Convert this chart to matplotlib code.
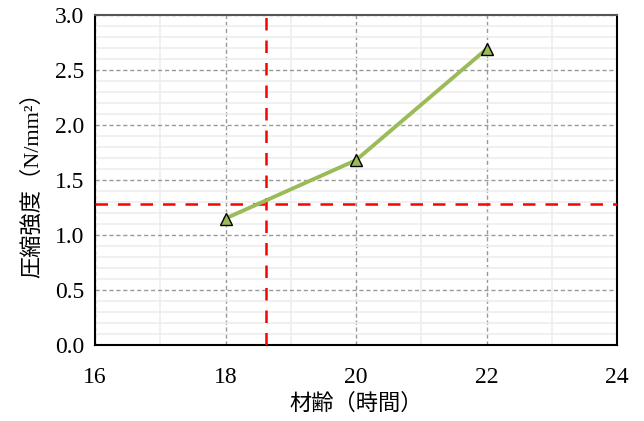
import matplotlib
matplotlib.use('Agg')
import matplotlib.pyplot as plt
from matplotlib.ticker import MultipleLocator

ages = [18, 20, 22]
strength = [1.15, 1.68, 2.69]
target_age = 18.62
target_strength = 1.28

plt.rcParams['font.family'] = ['Liberation Serif', 'Noto Sans CJK JP']

fig = plt.figure(figsize=(6.44, 4.21), dpi=100)
ax = fig.add_axes([95/644, 1-345/421, 522/644, 330/421])

ax.set_xlim(16, 24)
ax.set_ylim(0, 3.0)
ax.xaxis.set_major_locator(MultipleLocator(2))
ax.xaxis.set_minor_locator(MultipleLocator(1))
ax.yaxis.set_major_locator(MultipleLocator(0.5))
ax.yaxis.set_minor_locator(MultipleLocator(0.1))
ax.grid(which='minor', color='#eeeeee', lw=1.2, ls='-')
ax.grid(which='major', color='#999999', lw=1, ls=(0, (3, 2)))
ax.set_axisbelow(True)

ax.axvline(target_age, color='#ff0000', lw=1.8, ls=(0, (5, 4)), zorder=3)
ax.axhline(target_strength, color='#ff0000', lw=1.8, ls=(0, (5, 4)), zorder=3)

ax.plot(ages, strength, color='#9bbb59', lw=2.8, marker='^', ms=9,
        markerfacecolor='#9bbb59', markeredgecolor='black', markeredgewidth=1, zorder=4)

ax.yaxis.set_major_formatter(matplotlib.ticker.FormatStrFormatter('%.1f'))
ax.tick_params(which='both', length=0, labelsize=17, pad=8)
ax.tick_params(axis='x', pad=16)
for s in ['left', 'bottom', 'right']:
    ax.spines[s].set_color('black')
    ax.spines[s].set_linewidth(1.5)
ax.spines['top'].set_color('#555555')
ax.spines['top'].set_linestyle((0, (3, 1)))
ax.spines['top'].set_linewidth(1.5)

ax.set_xlabel('材齢（時間）', fontsize=16, labelpad=4)
ax.set_ylabel('圧縮強度（N/mm²）', fontsize=16, labelpad=8)

fig.savefig('out.png', dpi=100)
